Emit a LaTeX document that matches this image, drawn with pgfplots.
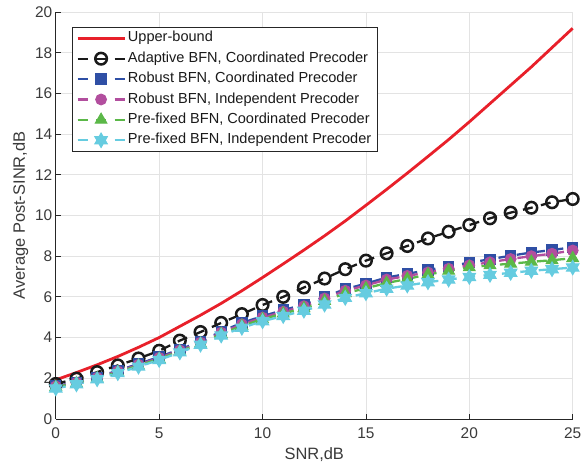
\documentclass[border=0pt]{standalone}
\usepackage{fontspec}
\setmainfont{Liberation Sans}
\usepackage{pgfplots}
\usepackage{pgfplotstable}
\pgfplotsset{compat=1.18}

\definecolor{ubred}{HTML}{E8202A}
\definecolor{adblack}{HTML}{1A1A1A}
\definecolor{rcblue}{HTML}{2F4FA5}
\definecolor{ripink}{HTML}{B24E9E}
\definecolor{pcgreen}{HTML}{5BB848}
\definecolor{picyan}{HTML}{66CCE0}
\definecolor{axgray}{HTML}{262626}
\definecolor{txtgray}{HTML}{3A3A3A}
\definecolor{gridgray}{HTML}{E3E3E3}

% six-pointed star, like MATLAB's hexagram
\pgfdeclareplotmark{hexagram}{%
  \pgfpathmoveto{\pgfpointpolar{90}{\pgfplotmarksize}}%
  \pgfpathlineto{\pgfpointpolar{120}{0.577\pgfplotmarksize}}%
  \pgfpathlineto{\pgfpointpolar{150}{\pgfplotmarksize}}%
  \pgfpathlineto{\pgfpointpolar{180}{0.577\pgfplotmarksize}}%
  \pgfpathlineto{\pgfpointpolar{210}{\pgfplotmarksize}}%
  \pgfpathlineto{\pgfpointpolar{240}{0.577\pgfplotmarksize}}%
  \pgfpathlineto{\pgfpointpolar{270}{\pgfplotmarksize}}%
  \pgfpathlineto{\pgfpointpolar{300}{0.577\pgfplotmarksize}}%
  \pgfpathlineto{\pgfpointpolar{330}{\pgfplotmarksize}}%
  \pgfpathlineto{\pgfpointpolar{0}{0.577\pgfplotmarksize}}%
  \pgfpathlineto{\pgfpointpolar{30}{\pgfplotmarksize}}%
  \pgfpathlineto{\pgfpointpolar{60}{0.577\pgfplotmarksize}}%
  \pgfpathclose
  \pgfusepathqfillstroke
}

% columns: SNR, upper bound, adaptive coord., robust coord., robust indep.,
% pre-fixed coord., pre-fixed indep.
\pgfplotstableread{
x  ub     ad     rc    ri    pc    pi
0  1.92   1.72   1.62  1.60  1.57  1.50
1  2.28   1.98   1.80  1.78  1.75  1.70
2  2.66   2.30   2.05  2.02  1.99  1.95
3  3.07   2.63   2.38  2.34  2.30  2.25
4  3.52   2.97   2.70  2.66  2.62  2.57
5  4.00   3.35   3.05  3.00  2.95  2.90
6  4.55   3.85   3.42  3.37  3.32  3.27
7  5.10   4.27   3.80  3.75  3.70  3.65
8  5.68   4.72   4.30  4.24  4.17  4.10
9  6.30   5.15   4.72  4.65  4.57  4.48
10 6.95   5.60   5.05  4.98  4.90  4.80
11 7.62   6.00   5.35  5.27  5.18  5.06
12 8.30   6.46   5.62  5.54  5.44  5.32
13 9.00   6.90   6.00  5.92  5.80  5.62
14 9.73   7.36   6.38  6.30  6.18  5.95
15 10.50  7.78   6.65  6.56  6.42  6.18
16 11.28  8.14   6.95  6.85  6.68  6.40
17 12.08  8.50   7.13  7.03  6.88  6.56
18 12.90  8.87   7.32  7.20  7.10  6.72
19 13.73  9.20   7.50  7.38  7.28  6.85
20 14.60  9.53   7.68  7.55  7.45  6.98
21 15.50  9.86   7.85  7.70  7.55  7.08
22 16.40  10.14  8.02  7.86  7.63  7.18
23 17.30  10.38  8.18  8.00  7.72  7.28
24 18.25  10.65  8.30  8.12  7.80  7.36
25 19.20  10.81  8.44  8.28  7.90  7.44
}\sinrdata

\begin{document}
\begin{tikzpicture}
\begin{axis}[
  width=517bp, height=407bp, scale only axis,
  xmin=0, xmax=25, ymin=0, ymax=20,
  xtick={0,5,...,25}, ytick={0,2,...,20},
  axis x line*=bottom, axis y line*=left,
  axis line style={axgray, line width=0.8bp},
  tick align=inside, major tick length=5bp,
  tick style={axgray, line width=0.8bp},
  grid=major, grid style={gridgray, line width=0.7bp},
  /pgf/number format/assume math mode=true,
  tick label style={font=\fontsize{15.5}{18}\selectfont, text=txtgray},
  xticklabel style={yshift=-5bp},
  label style={font=\fontsize{16.5}{20}\selectfont, text=txtgray},
  xlabel={SNR,dB}, ylabel={Average Post-SINR,dB},
  xlabel style={yshift=-2bp},
  clip=false,
  legend cell align=left,
  legend style={at={(0,1)}, anchor=north west, xshift=16bp, yshift=-14.7bp,
    draw=axgray, line width=0.8bp, fill=white,
    font=\fontsize{14.6}{16}\selectfont, text=adblack,
    row sep=0bp, inner xsep=4bp, inner ysep=1bp,
    nodes={inner ysep=3.2bp, text height=10.6bp, text depth=3.4bp}},
  legend image code/.code={%
    \draw[mark repeat=2, mark phase=2]
      plot coordinates {(0bp,0bp) (23.5bp,0bp) (47bp,0bp)};},
  every axis plot/.append style={line width=2.3bp},
]
\addplot[ubred, line width=2.8bp] table[x=x, y=ub] {\sinrdata};
\addlegendentry{Upper-bound}
\addplot[adblack, dash pattern=on 10bp off 8.5bp, mark=o, mark size=5.8bp,
  mark options={solid, line width=2.5bp}] table[x=x, y=ad] {\sinrdata};
\addlegendentry{Adaptive BFN, Coordinated Precoder}
\addplot[rcblue, dash pattern=on 10bp off 8.5bp, mark=square*, mark size=5.2bp,
  mark options={solid, line width=1bp, fill=rcblue}] table[x=x, y=rc] {\sinrdata};
\addlegendentry{Robust BFN, Coordinated Precoder}
\addplot[ripink, dash pattern=on 10bp off 8.5bp, mark=*, mark size=5.4bp,
  mark options={solid, line width=1bp, fill=ripink}] table[x=x, y=ri] {\sinrdata};
\addlegendentry{Robust BFN, Independent Precoder}
\addplot[pcgreen, dash pattern=on 10bp off 8.5bp, mark=triangle*, mark size=6.7bp,
  mark options={solid, line width=1bp, fill=pcgreen}] table[x=x, y=pc] {\sinrdata};
\addlegendentry{Pre-fixed BFN, Coordinated Precoder}
\addplot[picyan, dash pattern=on 10bp off 8.5bp, mark=hexagram, mark size=7.2bp,
  mark options={solid, line width=1bp, fill=picyan}] table[x=x, y=pi] {\sinrdata};
\addlegendentry{Pre-fixed BFN, Independent Precoder}
\coordinate (bl) at (rel axis cs:0,0);
\coordinate (tr) at (rel axis cs:1,1);
\end{axis}
\pgfresetboundingbox
\path ([shift={(-55.8bp,-49bp)}]bl) rectangle ([shift={(9.3bp,12bp)}]tr);
\end{tikzpicture}
\end{document}
